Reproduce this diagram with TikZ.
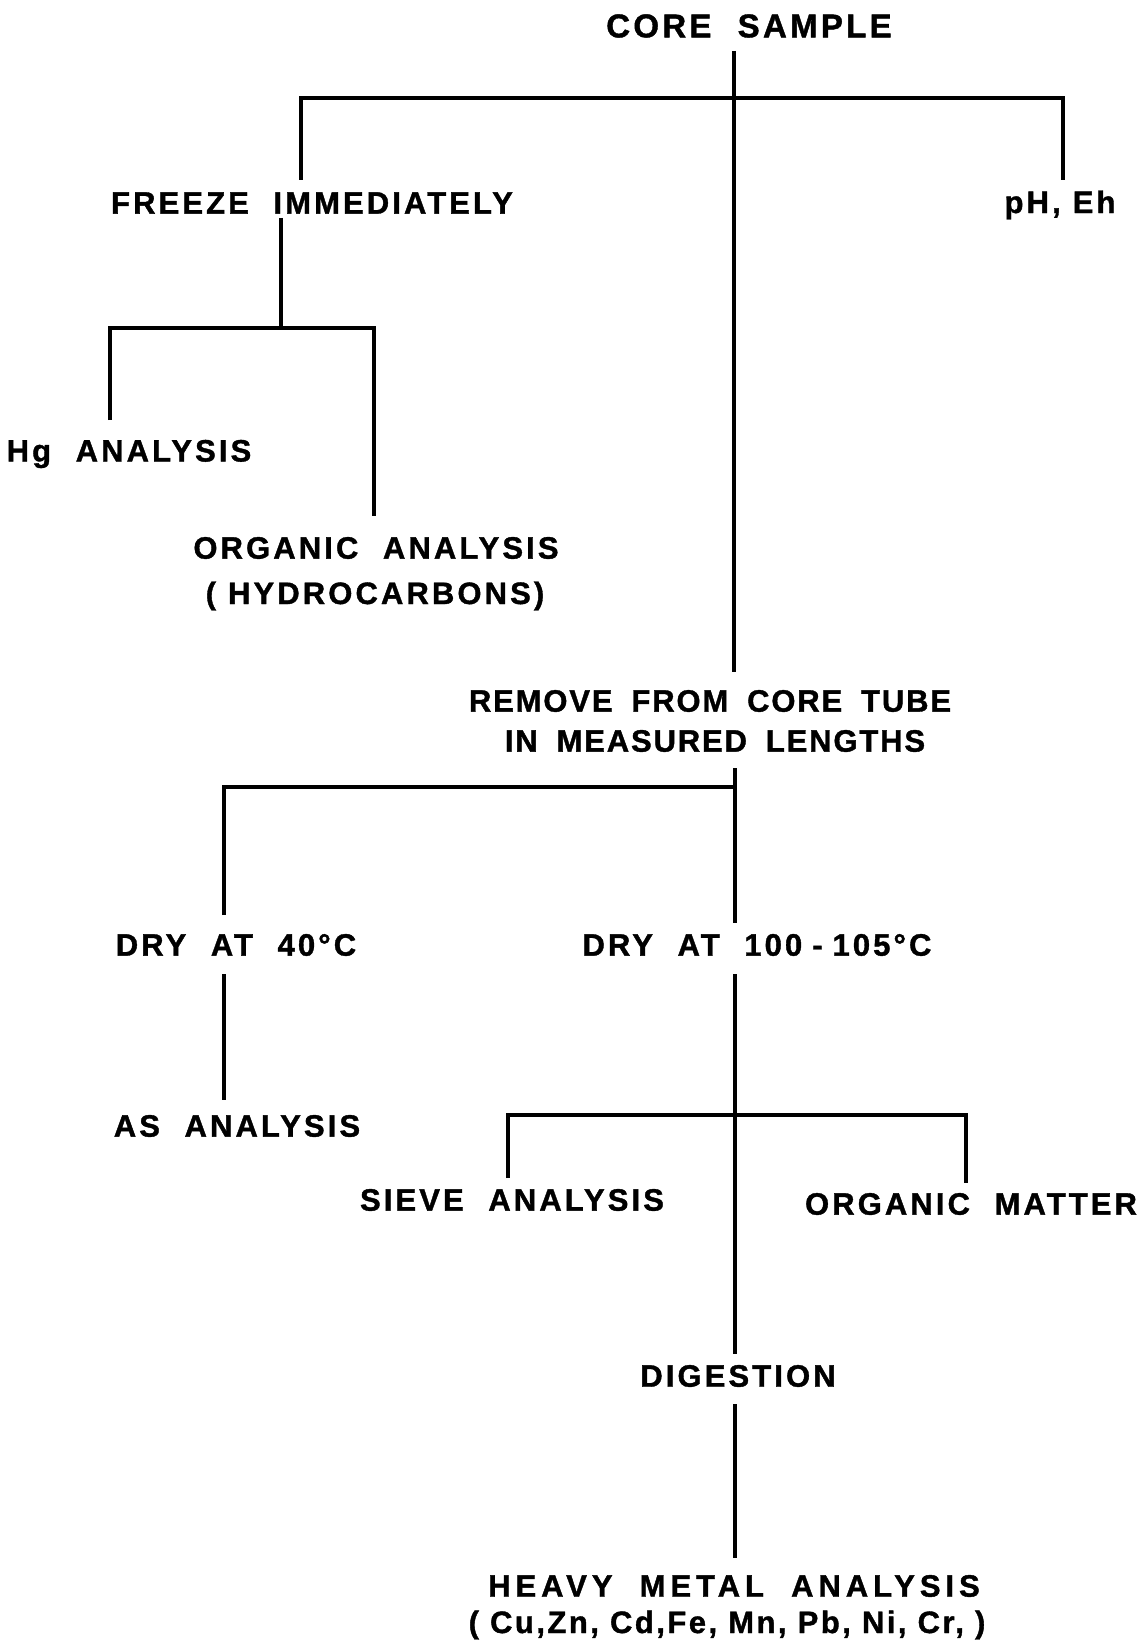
\documentclass[tikz,border=0pt]{standalone}
\usepackage{fontspec}
\newfontfamily\lbl{Liberation Sans Bold}[LetterSpace=10,WordSpace=2.1,FakeBold=1.2]
\newfontfamily\lblw{Liberation Sans Bold}[LetterSpace=16,WordSpace=2.0,FakeBold=1.2]
\newfontfamily\lbln{Liberation Sans Bold}[LetterSpace=8,WordSpace=1.0,FakeBold=1.2]
\newfontfamily\lblr{Liberation Sans Bold}[LetterSpace=6,WordSpace=1.8,FakeBold=1.2]
\begin{document}
\begin{tikzpicture}[x=1pt,y=-1pt,
  lab/.style={font=\lbl\fontsize{31}{36}\selectfont, inner sep=0pt, anchor=center},
  widelab/.style={font=\lblw\fontsize{31}{36}\selectfont, inner sep=0pt, anchor=center},
  narrowlab/.style={font=\lbln\fontsize{31}{36}\selectfont, inner sep=0pt, anchor=center},
  tightlab/.style={font=\lblr\fontsize{31}{36}\selectfont, inner sep=0pt, anchor=center},
  biglab/.style={font=\lbl\fontsize{33}{38}\selectfont, inner sep=0pt, anchor=center},
  ln/.style={line width=3.5pt, line join=miter, line cap=butt}]
\fill[white] (0,0) rectangle (1146,1645);
\useasboundingbox (0,0) rectangle (1146,1645);

% labels
\node[biglab] (core)   at (749,26)   {CORE SAMPLE};
\node[lab] (freeze)    at (312,203)  {FREEZE IMMEDIATELY};
\node[lab] (ph)        at (1060,205) {pH,\hspace{12pt}Eh};
\node[lab] (hg)        at (129,454)  {Hg ANALYSIS};
\node[lab] (org)       at (376,548)  {ORGANIC ANALYSIS};
\node[lab] (hydro)     at (375,596)  {(\hspace{12pt}HYDROCARBONS)};
\node[tightlab] (remove)  at (710,701) {REMOVE FROM CORE TUBE};
\node[tightlab] (lengths) at (715,741) {IN MEASURED LENGTHS};
\node[lab] (dry40)     at (236,945)  {DRY AT 40°C};
\node[lab] (dry100)    at (757,945)  {DRY AT 100\hspace{10pt}-\hspace{10pt}105°C};
\node[lab] (as)        at (237,1126) {AS ANALYSIS};
\node[lab] (sieve)     at (512,1200) {SIEVE ANALYSIS};
\node[lab] (orgm)      at (971,1204) {ORGANIC MATTER};
\node[lab] (dig)       at (738,1376) {DIGESTION};
\node[widelab] (heavy) at (734,1586) {HEAVY METAL ANALYSIS};
\node[narrowlab] (metals) at (727,1625) {( Cu,Zn, Cd,Fe, Mn, Pb, Ni, Cr, )};

% connector end points
\coordinate (c1) at (734,51);
\coordinate (c2) at (734,672);
\coordinate (fz) at (301,180);
\coordinate (fzt) at (301,98);
\coordinate (pht) at (1063,98);
\coordinate (phb) at (1063,180);
\coordinate (f1) at (281,218);
\coordinate (f2) at (281,328);
\coordinate (hgb) at (110,420);
\coordinate (hgt) at (110,328);
\coordinate (ogt) at (374,328);
\coordinate (ogb) at (374,516);
\coordinate (r1) at (735,768);
\coordinate (r2) at (735,923);
\coordinate (rj) at (735,787);
\coordinate (d4t) at (224,787);
\coordinate (d4b) at (224,915);
\coordinate (a1) at (224,974);
\coordinate (a2) at (224,1100);
\coordinate (m1) at (735,974);
\coordinate (m2) at (735,1354);
\coordinate (svb) at (508,1178);
\coordinate (svt) at (508,1115);
\coordinate (omt) at (966,1115);
\coordinate (omb) at (966,1183);
\coordinate (g1) at (735,1404);
\coordinate (g2) at (735,1558);

% connectors
\draw[ln] (c1) -- (c2);
\draw[ln] (fz) -- (fzt) -- (pht) -- (phb);
\draw[ln] (f1) -- (f2);
\draw[ln] (hgb) -- (hgt) -- (ogt) -- (ogb);
\draw[ln] (r1) -- (r2);
\draw[ln] (d4b) -- (d4t) -- (rj);
\draw[ln] (a1) -- (a2);
\draw[ln] (m1) -- (m2);
\draw[ln] (svb) -- (svt) -- (omt) -- (omb);
\draw[ln] (g1) -- (g2);
\end{tikzpicture}
\end{document}
